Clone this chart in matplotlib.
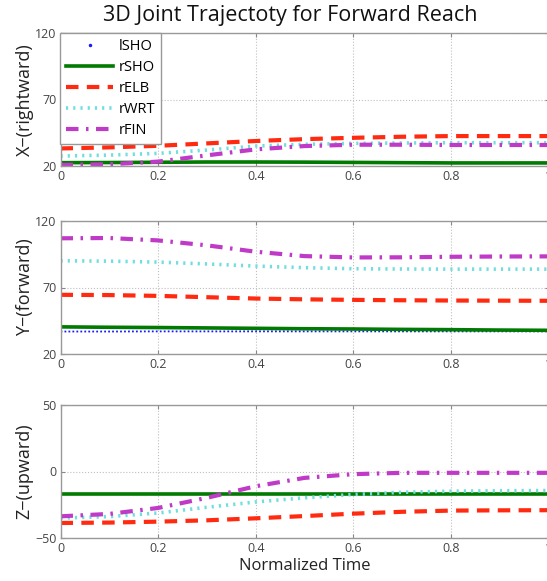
import matplotlib
matplotlib.use('agg')
import matplotlib.pyplot as plt
from matplotlib.lines import Line2D
import numpy as np

plt.rcParams['font.family'] = ['Open Sans', 'DejaVu Sans']

t = [0, 0.1, 0.2, 0.3, 0.4, 0.5, 0.6, 0.7, 0.8, 0.9, 1.0]
names = ['lSHO', 'rSHO', 'rELB', 'rWRT', 'rFIN']

# X - rightward
x_lSHO = [22.5, 22.6, 22.8, 23.0, 23.0, 22.9, 22.7, 22.5, 22.3, 22.3, 22.3]
x_rSHO = [22.5, 22.6, 22.8, 23.0, 23.0, 22.9, 22.7, 22.5, 22.3, 22.3, 22.3]
x_rELB = [33.2, 34.0, 35.2, 37.0, 38.8, 40.2, 41.2, 42.0, 42.5, 42.5, 42.5]
x_rWRT = [27.5, 28.2, 29.5, 32.0, 35.0, 36.3, 37.0, 37.3, 37.5, 37.5, 37.5]
x_rFIN = [20.8, 21.3, 23.3, 28.0, 32.5, 35.0, 36.0, 36.0, 35.8, 35.8, 35.8]

# Y - forward
y_lSHO = [36.9, 36.9, 37.0, 37.0, 37.0, 37.0, 37.0, 37.0, 37.0, 37.0, 37.0]
y_rSHO = [40.4, 40.1, 39.9, 39.6, 39.3, 39.0, 38.8, 38.5, 38.3, 38.0, 37.8]
y_rELB = [64.5, 64.3, 63.7, 62.7, 61.7, 61.1, 60.7, 60.4, 60.2, 60.1, 60.0]
y_rWRT = [90.1, 89.8, 89.1, 87.7, 86.1, 84.9, 84.1, 83.9, 83.8, 83.8, 83.8]
y_rFIN = [107.0, 107.2, 105.4, 101.7, 96.9, 93.6, 92.6, 92.7, 93.1, 93.3, 93.4]

# Z - upward
z_lSHO = [-17.0, -17.0, -17.0, -17.0, -17.0, -17.0, -17.0, -17.0, -17.0, -17.0, -17.0]
z_rSHO = [-16.8, -16.8, -16.8, -16.8, -16.8, -16.8, -16.8, -16.8, -16.8, -16.8, -16.8]
z_rELB = [-38.7, -38.4, -37.7, -36.7, -35.2, -33.5, -31.7, -30.3, -29.4, -29.2, -29.1]
z_rWRT = [-35.0, -33.9, -31.2, -26.9, -22.9, -19.8, -17.3, -15.6, -14.8, -14.5, -14.3]
z_rFIN = [-33.7, -31.9, -27.4, -19.8, -11.1, -4.8, -2.0, -1.0, -1.0, -1.0, -1.0]

panels = [
    ('X\u2212(rightward)', [x_lSHO, x_rSHO, x_rELB, x_rWRT, x_rFIN], (20, 120), [20, 70, 120]),
    ('Y\u2212(forward)', [y_lSHO, y_rSHO, y_rELB, y_rWRT, y_rFIN], (20, 120), [20, 70, 120]),
    ('Z\u2212(upward)', [z_lSHO, z_rSHO, z_rELB, z_rWRT, z_rFIN], (-50, 50), [-50, 0, 50]),
]

styles = [
    dict(color='#1a1aff', ls=(0, (1, 1.2)), lw=1.3),
    dict(color='#007a00', ls='-', lw=2.6),
    dict(color='#ff2a10', ls=(0, (3, 2)), lw=3.0),
    dict(color='#70dede', ls=(0, (0.6, 1.4)), lw=2.6),
    dict(color='#c03ac8', ls=(0, (3, 1.8, 0.6, 1.8)), lw=3.0),
]

fig = plt.figure(figsize=(5.47, 5.81), dpi=100)
W, H = 547.0, 581.0
left = 60.5 / W
width = (548.5 - 60.5) / W
tops = [33, 221, 405]
hgt = 133

axes = []
for i, (ylab, series, ylim, yt) in enumerate(panels):
    ax = fig.add_axes([left, 1 - (tops[i] + hgt) / H, width, hgt / H])
    axes.append(ax)
    for s, st in zip(series, styles):
        ax.plot(t, s, **st)
    ax.set_xlim(0, 1)
    ax.set_ylim(*ylim)
    ax.set_yticks(yt)
    ax.set_xticks([0, 0.2, 0.4, 0.6, 0.8, 1.0])
    ax.set_xticklabels(['0', '0.2', '0.4', '0.6', '0.8', '1'])
    ax.set_yticklabels([str(v).replace('-', '\u2212') for v in yt])
    ax.grid(True, ls=':', color='#c0c0c0', lw=0.8)
    ax.tick_params(direction='in', length=3, width=0.8, colors='#888888',
                   labelcolor='#444444', labelsize=9, top=True, right=True, pad=3)
    for sp in ax.spines.values():
        sp.set_color('#999999')
        sp.set_linewidth(1.0)
    ax.set_ylabel(ylab, fontsize=13, color='#222222', labelpad=1)

axes[2].set_xlabel('Normalized Time', fontsize=12, color='#222222', labelpad=2)

handles = [Line2D([], [], color='#1a1aff', marker='.', ls='none', ms=3)]
for st in styles[1:]:
    handles.append(Line2D([], [], **st))
leg = axes[0].legend(handles, names, loc='upper left', borderaxespad=0,
                     fontsize=10.5, handlelength=3.2, labelspacing=0.42,
                     fancybox=False, framealpha=1, edgecolor='#999999',
                     borderpad=0.4, handletextpad=0.4)
leg.get_frame().set_linewidth(1.0)

fig.text(290 / W, 1 - 16 / H, '3D Joint Trajectoty for Forward Reach',
         ha='center', va='center', fontsize=15.5, color='#111111')

fig.savefig('out.png', dpi=100)
